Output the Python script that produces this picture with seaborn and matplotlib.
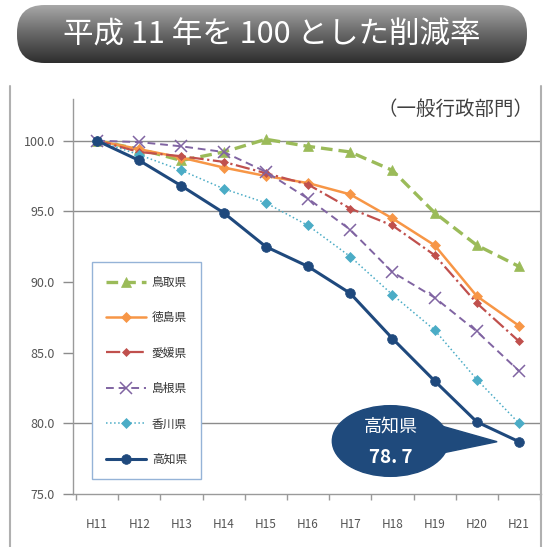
import matplotlib
matplotlib.use('Agg')
import matplotlib.pyplot as plt
import numpy as np
import seaborn as sns
from matplotlib.patches import FancyBboxPatch, Ellipse, Polygon
from matplotlib.lines import Line2D
from matplotlib.colors import LinearSegmentedColormap

sns.set_theme(style='white')
plt.rcParams['font.family'] = ['Noto Sans CJK JP', 'DejaVu Sans']

# %%
years = ['H11', 'H12', 'H13', 'H14', 'H15', 'H16', 'H17', 'H18', 'H19', 'H20', 'H21']
tottori = [100.0, 99.4, 98.6, 99.2, 100.1, 99.6, 99.2, 97.9, 94.9, 92.6, 91.1]
tokushima = [100.0, 99.4, 98.8, 98.1, 97.5, 97.0, 96.2, 94.5, 92.6, 89.0, 86.9]
ehime = [100.0, 99.2, 98.9, 98.5, 97.7, 96.9, 95.2, 94.0, 91.9, 88.5, 85.8]
shimane = [100.0, 99.9, 99.6, 99.2, 97.8, 95.9, 93.7, 90.7, 88.9, 86.5, 83.7]
kagawa = [100.0, 99.0, 97.9, 96.6, 95.6, 94.0, 91.8, 89.1, 86.6, 83.1, 80.0]
kochi = [100.0, 98.6, 96.8, 94.9, 92.5, 91.1, 89.2, 86.0, 83.0, 80.1, 78.7]

names = ['鳥取県', '徳島県', '愛媛県', '島根県', '香川県', '高知県']
values = [tottori, tokushima, ehime, shimane, kagawa, kochi]
y_ticks = [75.0, 80.0, 85.0, 90.0, 95.0, 100.0]
grid_levels = [100.0, 95.0, 80.0]

title = '平成 11 年を 100 とした削減率'
subtitle = '（一般行政部門）'
callout_name = '高知県'
callout_value = '78. 7'

# %%
styles = [
    dict(color='#9bbb59', ls=(0, (3.5, 1.8)), lw=2.4, marker='^', ms=7),
    dict(color='#f79646', ls='-', lw=1.8, marker='D', ms=5),
    dict(color='#c0504d', ls='-.', lw=1.6, marker='D', ms=4),
    dict(color='#8064a2', ls=(0, (4, 2.5)), lw=1.4, marker='x', ms=8, mew=1.1),
    dict(color='#4bacc6', ls=':', lw=1.1, marker='D', ms=5),
    dict(color='#1f497d', ls='-', lw=2.2, marker='o', ms=7),
]

fig = plt.figure(figsize=(5.45, 5.47), dpi=100)
ax = fig.add_axes([73 / 545, 1 - 494 / 547, 468 / 545, 395 / 547])

x = np.arange(len(years))
for name, vals, st in zip(names, values, styles):
    sns.lineplot(x=x, y=vals, label=name, ax=ax, color=st['color'],
                 linestyle=st['ls'], lw=st['lw'], marker=st['marker'],
                 markersize=st['ms'], markeredgewidth=st.get('mew', 0.5),
                 markeredgecolor=st['color'], zorder=3)

for g in grid_levels:
    ax.axhline(g, color='#8c8c8c', lw=1, zorder=1)

ax.set_xlim(-0.57, 10.52)
ax.set_ylim(75, 102.95)
ax.set_xticks(x)
ax.set_xticklabels(years)
ax.set_xticks(np.arange(-0.5, 10.6, 1), minor=True)
ax.tick_params(axis='x', which='major', length=0, pad=17, labelsize=8.5, labelcolor='#555555')
ax.tick_params(axis='x', which='minor', length=4, width=1, color='#9a9a9a', direction='out', bottom=True)
ax.set_yticks(y_ticks)
ax.set_yticklabels([f'{v:.1f}' for v in y_ticks])
ax.tick_params(axis='y', length=7, width=1, color='#8c8c8c', direction='out', left=True,
               labelsize=9, labelcolor='#555555', pad=6)
ax.set_xlabel('')
ax.set_ylabel('')
for side in ['top', 'right']:
    ax.spines[side].set_visible(False)
for side in ['left', 'bottom']:
    ax.spines[side].set_color('#9a9a9a')
    ax.spines[side].set_linewidth(1)

leg = ax.legend(loc='upper left', bbox_to_anchor=(0.041, 0.587), borderaxespad=0,
                fontsize=8.5, labelspacing=1.9, handlelength=3.4, borderpad=1.15,
                handletextpad=0.5, fancybox=False, frameon=True, framealpha=1)
leg.get_frame().set_edgecolor('#95b3d7')
leg.get_frame().set_linewidth(1)
for t in leg.get_texts():
    t.set_color('#333333')

ax.text(0.985, 1.0, subtitle, transform=ax.transAxes, ha='right', va='top',
        fontsize=14, color='#404040')

# callout for Kochi
last_x, last_y = x[-1], kochi[-1]
cx, cy = last_x - 3.05, last_y + 0.05
ell = Ellipse((cx, cy), 2.75, 5.0, facecolor='#1f4a7c', edgecolor='#1f4a7c', zorder=5)
ax.add_patch(ell)
tri = Polygon([(cx + 1.05, cy + 1.2), (cx + 1.15, cy - 0.9), (last_x - 0.52, last_y - 0.0)],
              closed=True, facecolor='#1f4a7c', edgecolor='#1f4a7c', zorder=5)
ax.add_patch(tri)
ax.text(cx, cy + 1.0, callout_name, ha='center', va='center', color='white', fontsize=13, zorder=6)
ax.text(cx, cy - 1.15, callout_value, ha='center', va='center',
        color='white', fontsize=13.5, fontweight='bold', zorder=6)

# outer frame lines
fig.add_artist(Line2D([10 / 545, 10 / 545], [0, 1 - 86 / 547], color='#b0b0b0', lw=1.5))
fig.add_artist(Line2D([541 / 545, 541 / 545], [0, 1 - 86 / 547], color='#b0b0b0', lw=1.5))

# title banner
bax = fig.add_axes([17 / 545, 1 - 63 / 547, 510 / 545, 58 / 547])
bax.set_axis_off()
bax.set_xlim(0, 1)
bax.set_ylim(0, 1)
grad = np.linspace(0, 1, 256).reshape(-1, 1)
cmap = LinearSegmentedColormap.from_list('banner', ['#a8a8a8', '#666666', '#2e2e2e'])
im = bax.imshow(grad, extent=(0, 1, 0, 1), aspect='auto', cmap=cmap, origin='upper')
asp = 510 / 58
box = FancyBboxPatch((0, 0), 1, 1, boxstyle='round,pad=0,rounding_size=0.054',
                     mutation_aspect=asp, transform=bax.transAxes, facecolor='none', edgecolor='none')
bax.add_patch(box)
im.set_clip_path(box)
bax.text(0.5, 0.48, title, ha='center', va='center', color='white', fontsize=22)

fig.savefig('out.png', dpi=100)
